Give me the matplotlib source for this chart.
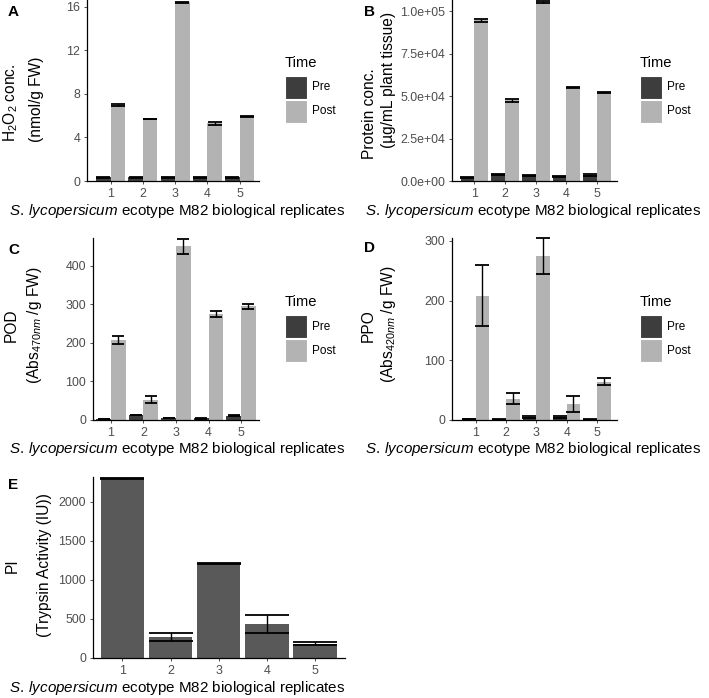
import matplotlib
matplotlib.use("Agg")
import matplotlib.pyplot as plt
from matplotlib.patches import Rectangle
import numpy as np

plt.rcParams["font.family"] = ["Liberation Sans", "DejaVu Sans"]
plt.rcParams["mathtext.fontset"] = "custom"
plt.rcParams["mathtext.rm"] = "Liberation Sans"
plt.rcParams["mathtext.it"] = "Liberation Sans:italic"

W, H = 709, 698

# data
replicates = [1, 2, 3, 4, 5]
h2o2_pre = [0.35, 0.35, 0.35, 0.35, 0.35]
h2o2_pre_err = [0.03, 0.03, 0.03, 0.03, 0.03]
h2o2_post = [7.0, 5.7, 16.45, 5.3, 5.9]
h2o2_post_err = [0.08, 0.04, 0.05, 0.15, 0.06]

prot_pre = [2000, 4000, 3000, 2500, 3500]
prot_pre_err = [300, 400, 300, 300, 400]
prot_post = [94500, 47500, 105500, 55000, 52000]
prot_post_err = [1000, 800, 600, 500, 500]

pod_pre = [2, 13, 5, 4, 11]
pod_pre_err = [0.5, 1, 0.5, 0.5, 1]
pod_post = [208, 52, 450, 275, 295]
pod_post_err = [10, 9, 20, 7, 6]

ppo_pre = [2, 1, 5, 5, 1]
ppo_pre_err = [0.5, 0.3, 1, 1, 0.3]
ppo_post = [208, 36, 275, 27, 64]
ppo_post_err = [51, 9, 30, 13, 6]

pi_vals = [2292, 270, 1207, 430, 183]
pi_err = [6, 53, 6, 115, 21]

PRE_C = "#3d3d3d"
POST_C = "#b3b3b3"
E_C = "#595959"
TICK_C = "#4d4d4d"

XLAB = r"$\it{S.}\:\it{lycopersicum}$ ecotype M82 biological replicates"
XFS = 10.9
YFS = 11.2


def rect(l, t, r, b):
    return [l / W, 1 - b / H, (r - l) / W, (b - t) / H]


def ftext(x, y, s, **kw):
    fig.text(x / W, 1 - y / H, s, **kw)


def style(ax, yticks, ylabels=None):
    for side in ["top", "right"]:
        ax.spines[side].set_visible(False)
    for side in ["left", "bottom"]:
        ax.spines[side].set_linewidth(0.9)
    ax.set_xticks(replicates)
    ax.set_yticks(yticks)
    if ylabels is not None:
        ax.set_yticklabels(ylabels)
    ax.tick_params(length=2.5, width=0.6, color="#333333", labelcolor=TICK_C,
                   labelsize=8.9, pad=2.5)


def dodge_panel(ax, pre, pre_err, post, post_err, cap=5.2):
    x = np.array(replicates)
    ax.bar(x - 0.225, pre, 0.45, color=PRE_C)
    ax.bar(x + 0.225, post, 0.45, color=POST_C)
    ax.errorbar(x - 0.225, pre, yerr=pre_err, fmt="none", ecolor="black",
                elinewidth=1, capsize=cap, capthick=1.3, clip_on=False)
    ax.errorbar(x + 0.225, post, yerr=post_err, fmt="none", ecolor="black",
                elinewidth=1, capsize=cap, capthick=1.3, clip_on=False)


def legend(x, y):
    ftext(x, y, "Time", fontsize=10.6, va="center", ha="left")
    for i, (lab, col) in enumerate([("Pre", PRE_C), ("Post", POST_C)]):
        top = y + 13 + i * 24
        fig.add_artist(Rectangle((x / W, 1 - (top + 23) / H), 22 / W, 23 / H,
                                 transform=fig.transFigure, facecolor=col,
                                 edgecolor="white", linewidth=0.8))
        ftext(x + 27, top + 11.5, lab, fontsize=8.5, va="center", ha="left")


fig = plt.figure(figsize=(W / 100, H / 100), dpi=100)

# A
axA = fig.add_axes(rect(87, 0, 259, 181))
dodge_panel(axA, h2o2_pre, h2o2_pre_err, h2o2_post, h2o2_post_err)
axA.set_xlim(0.27, 5.6)
axA.set_ylim(0, 16.64)
style(axA, [0, 4, 8, 12, 16])
ftext(11, 103, r"H$_2$O$_2$ conc.", rotation=90, fontsize=YFS, ha="center", va="center")
ftext(36, 99, "(nmol/g FW)", rotation=90, fontsize=YFS, ha="center", va="center")
ftext(177, 211, XLAB, fontsize=XFS, ha="center", va="center")
ftext(8, 12, "A", fontsize=11, fontweight="bold", ha="left", va="center")
legend(285, 63)

# B
axB = fig.add_axes(rect(452, 0, 617, 181))
dodge_panel(axB, prot_pre, prot_pre_err, prot_post, prot_post_err, cap=5.0)
axB.set_xlim(0.27, 5.65)
axB.set_ylim(0, 106500)
style(axB, [0, 25000, 50000, 75000, 100000],
      ["0.0e+00", "2.5e+04", "5.0e+04", "7.5e+04", "1.0e+05"])
ftext(369, 114, "Protein conc.", rotation=90, fontsize=YFS, ha="center", va="center")
ftext(388, 80, "(µg/mL plant tissue)", rotation=90, fontsize=YFS, ha="center", va="center")
ftext(533, 211, XLAB, fontsize=XFS, ha="center", va="center")
ftext(364, 12, "B", fontsize=11, fontweight="bold", ha="left", va="center")
legend(640, 63)

# C
axC = fig.add_axes(rect(93, 238, 259, 420))
dodge_panel(axC, pod_pre, pod_pre_err, pod_post, pod_post_err, cap=4.0)
axC.set_xlim(0.45, 5.55)
axC.set_ylim(0, 472)
style(axC, [0, 100, 200, 300, 400])
ftext(11, 325, "POD", rotation=90, fontsize=YFS, ha="center", va="center")
ftext(34, 325, r"(Abs$_{470nm}$ /g FW)", rotation=90, fontsize=YFS, ha="center", va="center")
ftext(177, 449, XLAB, fontsize=XFS, ha="center", va="center")
ftext(8, 250, "C", fontsize=11, fontweight="bold", ha="left", va="center")
legend(285, 302)

# D
axD = fig.add_axes(rect(452, 238, 617, 420))
dodge_panel(axD, ppo_pre, ppo_pre_err, ppo_post, ppo_post_err, cap=5.0)
axD.set_xlim(0.22, 5.66)
axD.set_ylim(0, 305)
style(axD, [0, 100, 200, 300])
ftext(368, 326, "PPO", rotation=90, fontsize=YFS, ha="center", va="center")
ftext(389, 324, r"(Abs$_{420nm}$ /g FW)", rotation=90, fontsize=YFS, ha="center", va="center")
ftext(533, 449, XLAB, fontsize=XFS, ha="center", va="center")
ftext(364, 248, "D", fontsize=11, fontweight="bold", ha="left", va="center")
legend(640, 302)

# E
axE = fig.add_axes(rect(93, 477, 345, 658))
axE.bar(replicates, pi_vals, 0.9, color=E_C)
axE.errorbar(replicates, pi_vals, yerr=pi_err, fmt="none", ecolor="black",
             elinewidth=1, capsize=15.5, capthick=1.3, clip_on=False)
axE.set_xlim(0.39, 5.62)
axE.set_ylim(0, 2314)
style(axE, [0, 500, 1000, 1500, 2000])
ftext(12, 566, "PI", rotation=90, fontsize=YFS, ha="center", va="center")
ftext(45, 565, "(Trypsin Activity (IU))", rotation=90, fontsize=YFS, ha="center", va="center")
ftext(177, 688, XLAB, fontsize=XFS, ha="center", va="center")
ftext(8, 485, "E", fontsize=11, fontweight="bold", ha="left", va="center")

fig.savefig("out.png", dpi=100)
